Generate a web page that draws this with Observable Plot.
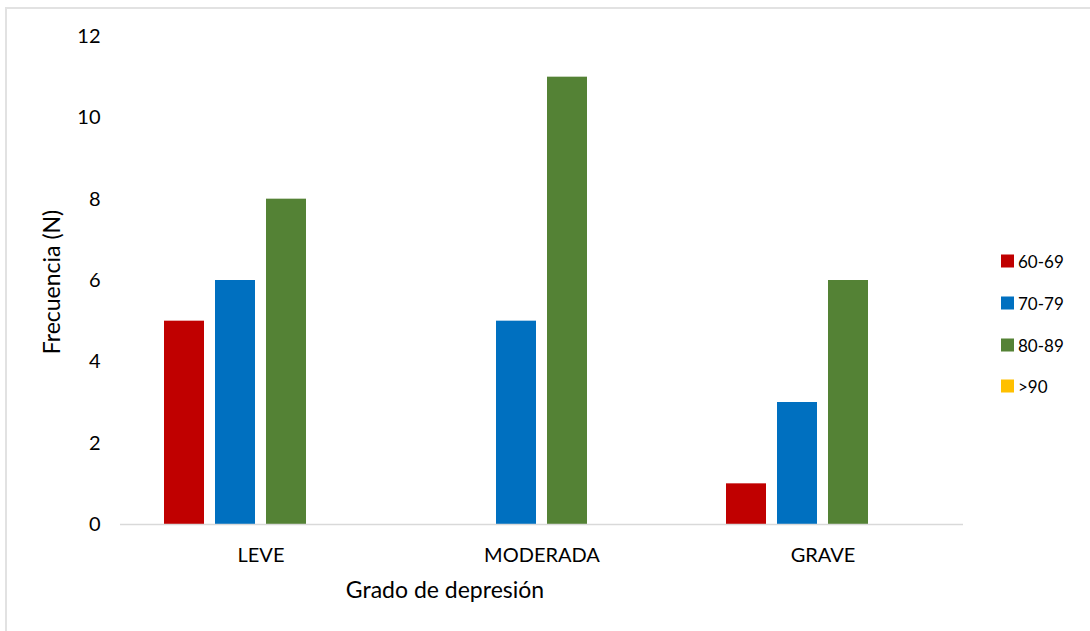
<!DOCTYPE html>
<html>
<head>
<meta charset="utf-8">
<script src="https://cdn.jsdelivr.net/npm/d3@7"></script>
<script src="https://cdn.jsdelivr.net/npm/@observablehq/plot@0.6"></script>
<style>
  html, body { margin: 0; padding: 0; background: #fff; }
  #chart { position: relative; width: 1090px; height: 631px; overflow: hidden; font-family: Lato, "Open Sans", sans-serif; color: #000; }
  #frame { position: absolute; left: 5px; top: 7px; width: 1200px; height: 700px; border: 2px solid #e2e2e2; box-sizing: border-box; }
  #plot { position: absolute; left: 0; top: 0; }
  .title { position: absolute; font-size: 23px; white-space: nowrap; }
  #ytitle { left: 51px; top: 282px; transform: translate(-50%, -50%) rotate(-90deg); }
  #xtitle { left: 445px; top: 589px; transform: translate(-50%, -50%); }
  #legend { position: absolute; left: 1001px; top: 0; }
  .item { position: absolute; display: flex; align-items: center; white-space: nowrap; font-size: 17px; transform: translateY(-50%); }
  .swatch { width: 13px; height: 13px; margin-right: 4px; flex: none; }
</style>
</head>
<body>
<div id="chart">
  <div id="frame"></div>
  <div id="plot"></div>
  <div id="ytitle" class="title">Frecuencia (N)</div>
  <div id="xtitle" class="title">Grado de depresión</div>
  <div id="legend"></div>
</div>
<script>
// Depression grade categories and age groups
const categories = ["LEVE", "MODERADA", "GRAVE"];
const ageGroups = ["60-69", "70-79", "80-89", ">90"];
const groupColors = ["#C00000", "#0070C0", "#548235", "#FFC000"];

// Frequency per age group, one array per grade
const leve = [5, 6, 8, 0];
const moderada = [0, 5, 11, 0];
const grave = [1, 3, 6, 0];

const yTicks = [0, 2, 4, 6, 8, 10, 12];

const counts = [leve, moderada, grave];
const data = categories.flatMap((grado, i) =>
  ageGroups.map((edad, j) => ({grado, edad, n: counts[i][j]}))
);

const chart = Plot.plot({
  width: 1090,
  height: 631,
  marginLeft: 119,
  marginRight: 127,
  marginTop: 36,
  marginBottom: 107,
  style: {fontFamily: "Lato, 'Open Sans', sans-serif", fontSize: "20px", color: "#000", background: "transparent"},
  fx: {domain: categories, padding: 0, label: null},
  x: {domain: ageGroups, paddingInner: 0.216, paddingOuter: 0.85, axis: null},
  y: {domain: [0, 12], label: null},
  color: {domain: ageGroups, range: groupColors},
  marks: [
    Plot.axisY({ticks: yTicks, tickSize: 0, tickPadding: 20, label: null}),
    Plot.axisFx({anchor: "bottom", tickSize: 0, tickPadding: 23, label: null, fontSize: 20}),
    Plot.barY(data, {fx: "grado", x: "edad", y: "n", fill: "edad"}),
    Plot.ruleY([0], {stroke: "#d9d9d9", strokeWidth: 1.5})
  ]
});
document.getElementById("plot").appendChild(chart);

// Legend on the right
const legend = document.getElementById("legend");
const legendY = [261, 303, 345, 386];
ageGroups.forEach((g, i) => {
  const item = document.createElement("div");
  item.className = "item";
  item.style.top = legendY[i] + "px";
  const sw = document.createElement("span");
  sw.className = "swatch";
  sw.style.background = groupColors[i];
  const label = document.createElement("span");
  label.textContent = g;
  item.appendChild(sw);
  item.appendChild(label);
  legend.appendChild(item);
});
</script>
</body>
</html>
